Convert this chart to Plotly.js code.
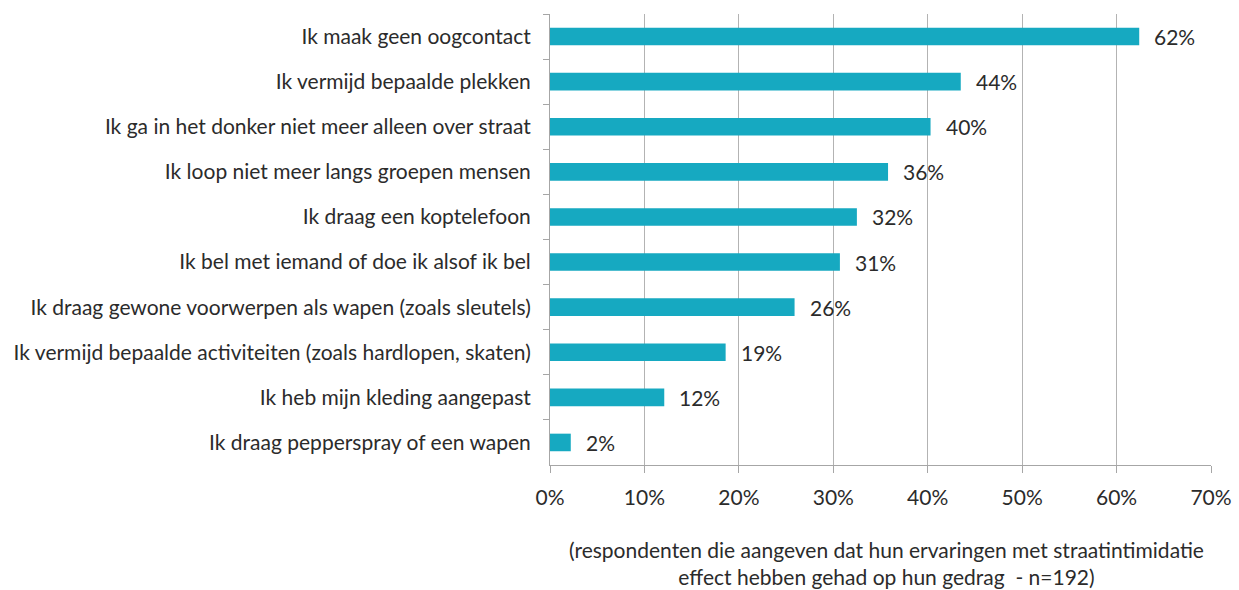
<!DOCTYPE html>
<html>
<head>
<meta charset="utf-8">
<script src="https://cdn.plot.ly/plotly-3.0.1.min.js"></script>
<style>
  html, body { margin: 0; padding: 0; background: #fff; }
  #chart { width: 1239px; height: 590px; }
</style>
</head>
<body>
<div id="chart"></div>
<script>
// categorieen van boven naar beneden
const categories = [
    "Ik maak geen oogcontact",
    "Ik vermijd bepaalde plekken",
    "Ik ga in het donker niet meer alleen over straat",
    "Ik loop niet meer langs groepen mensen",
    "Ik draag een koptelefoon",
    "Ik bel met iemand of doe ik alsof ik bel",
    "Ik draag gewone voorwerpen als wapen (zoals sleutels)",
    "Ik vermijd bepaalde activiteiten (zoals hardlopen, skaten)",
    "Ik heb mijn kleding aangepast",
    "Ik draag pepperspray of een wapen"
];
// aandeel respondenten (fractie)
const values = [0.624, 0.435, 0.403, 0.358, 0.325, 0.307, 0.259, 0.186, 0.121, 0.022];
const labels = ["62%", "44%", "40%", "36%", "32%", "31%", "26%", "19%", "12%", "2%"];
const xTicks = [0, 0.1, 0.2, 0.3, 0.4, 0.5, 0.6, 0.7];
const xTickText = ["0%", "10%", "20%", "30%", "40%", "50%", "60%", "70%"];
const footnote = "(respondenten die aangeven dat hun ervaringen met straatintimidatie<br>effect hebben gehad op hun gedrag  - n=192)";

const FONT = "Lato, 'Open Sans', sans-serif";
const FS = 21;
const TEXT = "#2b2b2b";

const trace = {
    type: 'bar',
    orientation: 'h',
    y: categories,
    x: values,
    marker: { color: '#16A9C1' },
    hoverinfo: 'none'
};

// waardelabels naast de balken
const annotations = values.map((v, i) => ({
    x: v, y: categories[i], xref: 'x', yref: 'y',
    text: labels[i], showarrow: false,
    xanchor: 'left', xshift: 13,
    font: { family: FONT, size: FS, color: TEXT }
}));

const margin = { l: 550, r: 28, t: 14, b: 125 };
const plotW = 1239 - margin.l - margin.r, plotH = 590 - margin.t - margin.b;

// voetnoot onder de grafiek
annotations.push({
    x: (886 - margin.l) / plotW, y: (590 - margin.b - 563) / plotH,
    xref: 'paper', yref: 'paper', text: footnote,
    showarrow: false, align: 'center', xanchor: 'center', yanchor: 'middle',
    font: { family: FONT, size: FS, color: TEXT }
});

const layout = {
    width: 1239, height: 590,
    margin: margin,
    paper_bgcolor: '#fff', plot_bgcolor: '#fff',
    showlegend: false,
    bargap: 0.61,
    font: { family: FONT, size: FS, color: TEXT },
    xaxis: {
        range: [0, 0.7],
        tickvals: xTicks, ticktext: xTickText,
        showgrid: true, gridcolor: '#B3B3B3', gridwidth: 1,
        zeroline: false,
        showline: true, linecolor: '#A6A6A6', linewidth: 1,
        ticks: 'outside', ticklen: 7, tickcolor: '#A6A6A6',
        ticklabelstandoff: 7,
        tickfont: { family: FONT, size: FS, color: TEXT },
        fixedrange: true
    },
    yaxis: {
        type: 'category',
        autorange: 'reversed',
        showline: true, linecolor: '#A6A6A6', linewidth: 1,
        ticks: 'outside', ticklen: 6, tickcolor: '#A6A6A6',
        tickson: 'boundaries',
        showgrid: false,
        ticklabelstandoff: 14,
        tickfont: { family: FONT, size: FS, color: TEXT },
        fixedrange: true
    },
    annotations: annotations
};

Plotly.newPlot('chart', [trace], layout, { displayModeBar: false, staticPlot: true });
</script>
</body>
</html>
